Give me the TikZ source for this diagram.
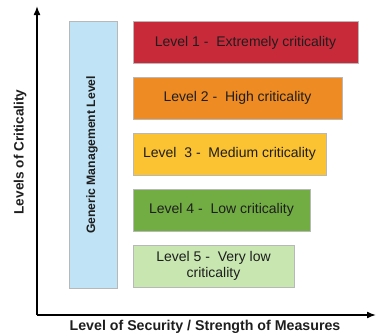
\documentclass[tikz,border=0pt]{standalone}
\usepackage{fontspec}
\setmainfont{Liberation Sans}
\usepackage{tikz}
\usetikzlibrary{arrows.meta}

\definecolor{lvlred}{HTML}{C82A3A}
\definecolor{lvlorange}{HTML}{EE8B22}
\definecolor{lvlyellow}{HTML}{FBC232}
\definecolor{lvlgreen}{HTML}{72AD44}
\definecolor{lvllight}{HTML}{C7E6B0}
\definecolor{mgmtblue}{HTML}{C0E4F6}
\definecolor{boxline}{HTML}{B8B8B8}
\definecolor{txt}{HTML}{1E1E1E}

\tikzset{
    levelbox/.style={draw=boxline, line width=0.6pt, minimum height=42pt, inner sep=2pt,
        text=txt, font=\fontsize{14}{15.5}\selectfont, align=center},
    axis/.style={line width=1.6pt, -{Latex[length=9pt,width=7pt]}},
    axislabel/.style={text=txt, font=\fontsize{13.6}{15}\selectfont\bfseries}
}

\begin{document}
\begin{tikzpicture}[x=1pt, y=-1pt]
                \useasboundingbox (0, 0) rectangle (376, 335);
                % axes
                \coordinate (origin) at (37, 315);
                \coordinate (ytop) at (37, 6);
                \coordinate (xend) at (376, 315);
                \draw[axis] (origin) -- (ytop);
                \draw[axis] (origin) -- (xend);
                \node[axislabel, rotate=90] (ylabel) at (20, 152) {Levels of Criticality};
                \node[axislabel, font=\fontsize{14.2}{15}\selectfont\bfseries] (xlabel) at (205, 327) {Level of Security / Strength of Measures};
                % management column
                \node[draw=boxline, line width=0.6pt, fill=mgmtblue, minimum width=48pt, minimum height=267pt,
                    inner sep=0pt] (mgmt) at (93, 154.5) {};
                \node[rotate=90, text=txt, font=\fontsize{12.2}{14}\selectfont\bfseries] (mgmttext) at (92, 155) {Generic Management Level};
                % levels
                \node[levelbox, fill=lvlred, minimum width=225pt] (lvl1) at (245.5, 42.5) {Level 1 -\ \ Extremely criticality};
                \node[levelbox, fill=lvlorange, minimum width=209pt] (lvl2) at (237.5, 98) {Level 2 -\ \ High criticality};
                \node[levelbox, fill=lvlyellow, minimum width=193pt] (lvl3) at (229.5, 154) {Level\ \ 3 -\ \ Medium criticality};
                \node[levelbox, fill=lvlgreen, minimum width=177pt] (lvl4) at (221.5, 210) {Level 4 -\ \ Low criticality};
                \node[levelbox, fill=lvllight, minimum width=161pt] (lvl5) at (213.5, 266) {Level 5 -\ \ Very low\\criticality};
            \end{tikzpicture}
\end{document}
